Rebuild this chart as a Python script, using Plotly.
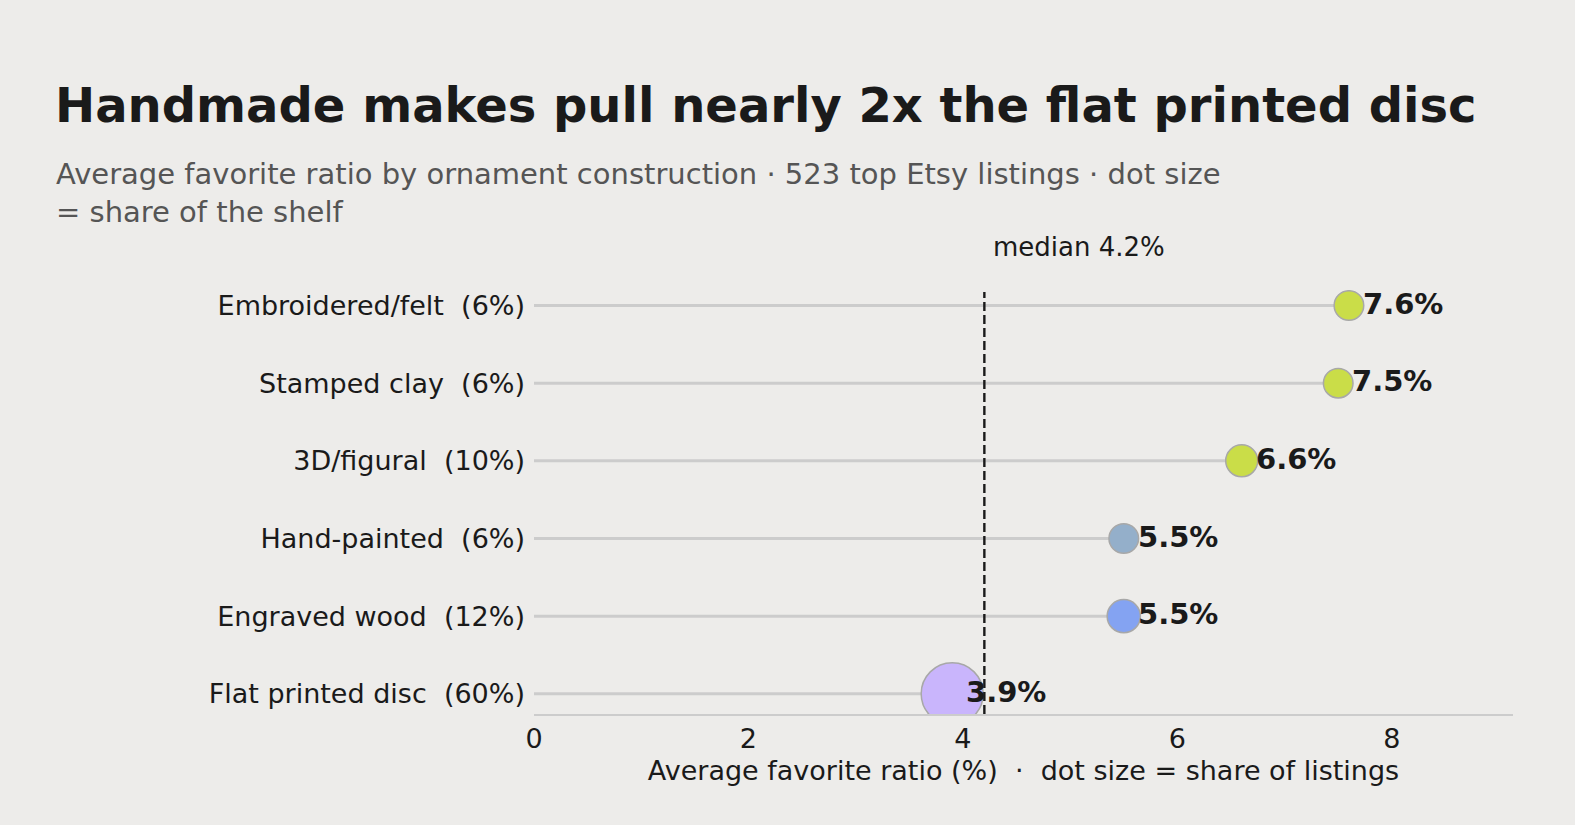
import plotly.graph_objects as go

# %% data
categories = ["Flat printed disc", "Engraved wood", "Hand-painted",
              "3D/figural", "Stamped clay", "Embroidered/felt"]
shares = [60, 12, 6, 10, 6, 6]  # % of listings
ratios = [3.9, 5.5, 5.5, 6.6, 7.5, 7.6]  # avg favorite ratio (%)
median_ratio = 4.2
x_ticks = [0, 2, 4, 6, 8]

colors = ["#C9B5FC", "#84A3F2", "#94AFCA", "#CADD48", "#CADD48", "#CADD48"]
bg = "#EDECEA"
font = "DejaVu Sans"

labels = [f"{c}\u00a0 ({s}%)" for c, s in zip(categories, shares)]
sizes = [26 + 0.6 * s for s in shares]

# %% figure
fig = go.Figure()

# stems
for lab, r in zip(labels, ratios):
    fig.add_trace(go.Scatter(x=[0, r], y=[lab, lab], mode="lines",
                             line=dict(color="#CCCCCC", width=3),
                             hoverinfo="skip", showlegend=False))

# dots
fig.add_trace(go.Scatter(x=ratios, y=labels, mode="markers",
                         marker=dict(size=sizes, color=colors, opacity=1,
                                     line=dict(color="#A8A8A8", width=1.5)),
                         showlegend=False))

# value labels
for lab, r in zip(labels, ratios):
    fig.add_annotation(x=r, y=lab, text=f"<b>{r:.1f}%</b>", showarrow=False,
                       xanchor="left", xshift=12, yshift=2,
                       font=dict(size=29, color="#1A1A1A", family=font))

# median line
fig.add_shape(type="line", x0=median_ratio, x1=median_ratio, y0=0, y1=0.995,
              xref="x", yref="paper",
              line=dict(color="#1A1A1A", width=2.4, dash="9px,4px"))
fig.add_annotation(x=median_ratio, y=1, xref="x", yref="paper",
                   text=f"median {median_ratio}%", showarrow=False,
                   xanchor="left", yanchor="middle", xshift=7, yshift=43,
                   font=dict(size=26, color="#1A1A1A", family=font))

# subtitle
fig.add_annotation(x=-0.49, y=1 + (290 - 193) / 424, xref="paper", yref="paper",
                   text="Average favorite ratio by ornament construction · 523 top Etsy listings · dot size<br>= share of the shelf",
                   showarrow=False, xanchor="left", yanchor="middle", align="left",
                   font=dict(size=29, color="#555555", family=font))

fig.update_layout(
    width=1575, height=825,
    paper_bgcolor=bg, plot_bgcolor=bg,
    margin=dict(l=534, r=62, t=290, b=111),
    font=dict(family=font, color="#1A1A1A"),
    title=dict(text="<b>Handmade makes pull nearly 2x the flat printed disc</b>",
               x=55 / 1575, xanchor="left", xref="container",
               y=1 - 105 / 825, yanchor="middle", yref="container",
               font=dict(size=48, color="#1A1A1A", family=font)),
    xaxis=dict(range=[0, 9.13], tickvals=x_ticks, showgrid=False, zeroline=False,
               showline=True, linecolor="#CCCCCC", linewidth=1.5,
               tickfont=dict(size=27, color="#1A1A1A"), ticks="",
               title=dict(text="Average favorite ratio (%)  ·  dot size = share of listings",
                          font=dict(size=27, color="#1A1A1A"), standoff=8)),
    yaxis=dict(categoryorder="array", categoryarray=labels, range=[-0.26, 5.2],
               showgrid=False, zeroline=False, showline=False, ticks="",
               ticklabelstandoff=8,
               tickfont=dict(size=27, color="#1A1A1A")),
)

fig.write_html("out.html", config={"displayModeBar": False},
               post_script="document.body.style.margin='0';")
